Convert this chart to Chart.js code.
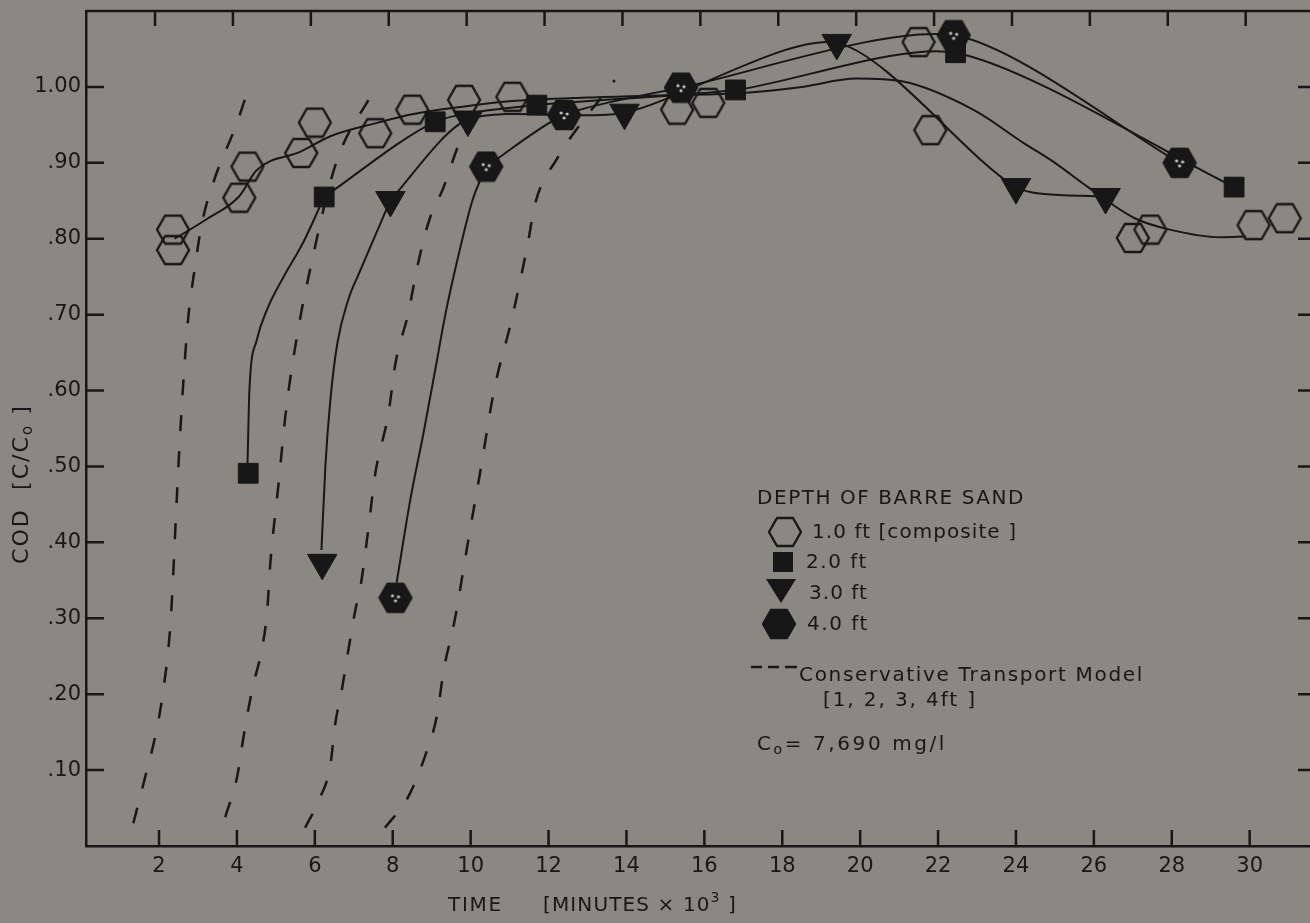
<!DOCTYPE html>
<html>
<head>
<meta charset="utf-8">
<script src="https://cdn.jsdelivr.net/npm/chart.js@4.4.1/dist/chart.umd.min.js"></script>
<style>
  html, body { margin: 0; padding: 0; background: #8b8883; overflow: hidden; }
  #wrap { width: 1330px; height: 923px; }
</style>
</head>
<body>
<div id="wrap"><canvas id="chart" width="1330" height="923"></canvas></div>
<script>
// time axis is minutes x 10^3, COD as C/Co
const xTicks = [2, 4, 6, 8, 10, 12, 14, 16, 18, 20, 22, 24, 26, 28, 30];
const yTicks = [0.1, 0.2, 0.3, 0.4, 0.5, 0.6, 0.7, 0.8, 0.9, 1.0];
const yTickLabels = ['.10', '.20', '.30', '.40', '.50', '.60', '.70', '.80', '.90', '1.00'];

// measured points, depth of Barre sand
const ft1X = [2.36, 2.36, 4.06, 4.27, 5.65, 6.0, 7.55, 8.5, 9.83, 11.07, 15.3, 16.1, 21.5, 21.8, 27.0, 27.45, 30.1, 30.9];
const ft1Y = [0.812, 0.785, 0.854, 0.895, 0.913, 0.953, 0.939, 0.97, 0.983, 0.987, 0.97, 0.979, 1.059, 0.943, 0.801, 0.812, 0.818, 0.827];
const ft2X = [4.29, 6.24, 9.09, 11.7, 16.8, 22.45, 29.6];
const ft2Y = [0.491, 0.855, 0.954, 0.976, 0.996, 1.045, 0.868];
const ft3X = [6.19, 7.94, 9.93, 13.95, 19.4, 24.0, 26.3];
const ft3Y = [0.373, 0.851, 0.957, 0.966, 1.058, 0.868, 0.855];
const ft4X = [8.07, 10.4, 12.4, 15.4, 22.4, 28.2];
const ft4Y = [0.327, 0.895, 0.963, 0.999, 1.068, 0.90];

// hand-drawn curves: composite trend, and the steep rise up to the second point
const ft1CurveX = [2.4, 3.2, 4.06, 4.5, 5.65, 6.4, 7.55, 8.5, 9.8, 11.0, 13.0, 15.0, 17.0, 18.5, 19.9, 21.1, 22.9, 24.2, 25.0, 25.85, 27.05, 27.95, 29.25, 29.9];
const ft1CurveY = [0.80, 0.825, 0.856, 0.89, 0.915, 0.935, 0.952, 0.964, 0.974, 0.981, 0.986, 0.989, 0.992, 1.0, 1.011, 1.007, 0.97, 0.926, 0.90, 0.868, 0.827, 0.812, 0.802, 0.803];
const ft2RiseX = [4.27, 4.32, 4.5, 4.8, 5.2, 5.7, 6.24];
const ft2RiseY = [0.50, 0.60, 0.665, 0.71, 0.75, 0.795, 0.855];
const ft3RiseX = [6.17, 6.27, 6.4, 6.58, 6.86, 7.14, 7.6, 7.94];
const ft3RiseY = [0.39, 0.50, 0.588, 0.663, 0.72, 0.755, 0.81, 0.851];
const ft4RiseX = [8.1, 8.45, 8.79, 9.1, 9.35, 9.65, 10.05, 10.4];
const ft4RiseY = [0.347, 0.456, 0.544, 0.63, 0.70, 0.77, 0.851, 0.895];

// conservative transport model, 1-4 ft
const model1X = [1.34, 1.64, 1.9, 2.08, 2.29, 2.36, 2.47, 2.59, 2.75, 2.9, 3.1, 3.44, 3.96, 4.26];
const model1Y = [0.03, 0.09, 0.144, 0.195, 0.29, 0.354, 0.473, 0.584, 0.696, 0.755, 0.82, 0.881, 0.947, 0.992];
const model2X = [3.7, 4.0, 4.17, 4.39, 4.65, 4.78, 4.85, 5.06, 5.27, 5.63, 5.86, 6.4, 6.7, 7.4];
const model2Y = [0.038, 0.09, 0.144, 0.206, 0.262, 0.311, 0.368, 0.473, 0.578, 0.697, 0.755, 0.875, 0.921, 0.985];
const model3X = [5.75, 6.1, 6.4, 6.52, 6.7, 6.86, 7.04, 7.17, 7.37, 7.55, 7.89, 8.07, 8.4, 8.63, 8.94, 9.3, 9.67, 10.1];
const model3Y = [0.024, 0.06, 0.107, 0.16, 0.208, 0.258, 0.311, 0.341, 0.416, 0.49, 0.57, 0.636, 0.702, 0.763, 0.825, 0.867, 0.921, 0.965];
const model4X = [7.8, 8.4, 8.84, 9.14, 9.3, 9.6, 9.93, 10.27, 10.6, 11.07, 11.46, 11.66, 12.2, 13.7];
const model4Y = [0.024, 0.065, 0.12, 0.173, 0.229, 0.30, 0.40, 0.50, 0.60, 0.697, 0.792, 0.847, 0.904, 1.009];

const ink = '#171717';
const paper = '#8b8883';
const FONT = '"DejaVu Sans", sans-serif';

const zip = (xs, ys) => xs.map((x, i) => ({ x: x, y: ys[i] }));

function hexCanvas(w, h, filled, specks) {
  const c = document.createElement('canvas');
  c.width = w + 4;
  c.height = h + 4;
  const g = c.getContext('2d');
  const cx = c.width / 2, cy = c.height / 2, rx = w / 2, ry = h / 2;
  g.beginPath();
  g.moveTo(cx - rx, cy);
  g.lineTo(cx - rx / 2, cy - ry);
  g.lineTo(cx + rx / 2, cy - ry);
  g.lineTo(cx + rx, cy);
  g.lineTo(cx + rx / 2, cy + ry);
  g.lineTo(cx - rx / 2, cy + ry);
  g.closePath();
  g.lineJoin = 'round';
  if (filled) {
    g.fillStyle = ink;
    g.fill();
  }
  g.lineWidth = 2.4;
  g.strokeStyle = ink;
  g.stroke();
  if (specks) {
    g.fillStyle = '#c9c6c0';
    [[-3, -2], [3, -1], [0, 3]].forEach(d => { g.beginPath(); g.arc(cx + d[0], cy + d[1], 1.6, 0, Math.PI * 2); g.fill(); });
  }
  return c;
}

const openHex = hexCanvas(32, 28, false, false);
const solidHex = hexCanvas(32, 28, true, false);
const speckHex = hexCanvas(32, 28, true, true);

function curve(xs, ys, opts) {
  return Object.assign({
    data: zip(xs, ys),
    showLine: true,
    borderColor: ink,
    borderWidth: 2,
    pointRadius: 0,
    cubicInterpolationMode: 'monotone',
    fill: false,
    order: 2
  }, opts || {});
}

function marks(xs, ys, style, radius, rotation) {
  return {
    data: zip(xs, ys),
    showLine: false,
    pointStyle: style,
    pointRadius: radius,
    pointRotation: rotation || 0,
    backgroundColor: ink,
    borderColor: ink,
    borderWidth: 1,
    order: 1
  };
}

const dashed = { borderWidth: 2.5, borderDash: [16, 20] };
const joined = { cubicInterpolationMode: 'default', tension: 0.25 };

// draws text made of runs [text, size, dy]; stretches letter spacing to a width if given
function drawRuns(ctx, parts, x, y, align, target) {
  let total = 0, count = 0;
  ctx.letterSpacing = '0px';
  parts.forEach(p => { ctx.font = p[1] + 'px ' + FONT; total += ctx.measureText(p[0]).width; count += p[0].length; });
  const ls = target ? (target - total) / count : 0;
  let cx = align === 'center' ? x - (total + ls * count) / 2 : x;
  ctx.textAlign = 'left';
  parts.forEach(p => {
    ctx.font = p[1] + 'px ' + FONT;
    ctx.letterSpacing = '0px';
    const w = ctx.measureText(p[0]).width;
    ctx.letterSpacing = ls + 'px';
    ctx.fillText(p[0], cx, y + p[2]);
    cx += w + ls * p[0].length;
  });
  ctx.letterSpacing = '0px';
}

const decor = {
  id: 'decor',
  beforeDraw(chart) {
    const ctx = chart.ctx;
    ctx.save();
    ctx.fillStyle = paper;
    ctx.fillRect(0, 0, chart.width, chart.height);
    ctx.restore();
  },
  afterDraw(chart) {
    const { ctx, chartArea: a, scales: { x, y } } = chart;
    ctx.save();
    ctx.strokeStyle = ink;
    ctx.lineWidth = 2.5;
    ctx.beginPath();
    ctx.moveTo(a.left, a.top);
    ctx.lineTo(a.right, a.top);
    ctx.lineTo(a.right, a.bottom);
    // inward ticks on all four sides
    xTicks.forEach(v => {
      const px = x.getPixelForValue(v);
      ctx.moveTo(px, a.bottom);
      ctx.lineTo(px, a.bottom - 16);
      ctx.moveTo(px - 4, a.top);
      ctx.lineTo(px - 4, a.top + 15);
    });
    yTicks.forEach(v => {
      const py = y.getPixelForValue(v);
      ctx.moveTo(a.left, py);
      ctx.lineTo(a.left + 18, py);
      ctx.moveTo(a.right, py);
      ctx.lineTo(a.right - 14, py);
    });
    ctx.stroke();

    ctx.fillStyle = ink;
    ctx.textBaseline = 'middle';

    // axis titles
    ctx.save();
    ctx.translate(22, 484);
    ctx.rotate(-Math.PI / 2);
    drawRuns(ctx, [['COD  [C/C', 22, 0], ['o', 15, 6], [' ]', 22, 0]], 0, 0, 'center', 160);
    ctx.restore();
    drawRuns(ctx, [['TIME', 20, 0]], 448, 906, 'left', 55);
    drawRuns(ctx, [['[MINUTES \u00d7 10', 20, 0], ['3', 14, -8], [' ]', 20, 0]], 543, 906, 'left', 194);

    // legend
    drawRuns(ctx, [['DEPTH OF BARRE SAND', 20, 0]], 757, 499, 'left', 268);
    ctx.drawImage(openHex, 785 - openHex.width / 2, 532 - openHex.height / 2);
    drawRuns(ctx, [['1.0 ft [composite ]', 20, 0]], 812, 533, 'left', 205);
    ctx.fillRect(773, 552, 20, 20);
    drawRuns(ctx, [['2.0 ft', 20, 0]], 806, 563, 'left', 62);
    ctx.beginPath();
    ctx.moveTo(766, 579);
    ctx.lineTo(796, 579);
    ctx.lineTo(781, 603);
    ctx.closePath();
    ctx.fill();
    drawRuns(ctx, [['3.0 ft', 20, 0]], 809, 594, 'left', 59);
    ctx.drawImage(solidHex, 779 - solidHex.width / 2, 624 - solidHex.height / 2);
    drawRuns(ctx, [['4.0 ft', 20, 0]], 807, 625, 'left', 62);
    ctx.lineWidth = 2.5;
    ctx.beginPath();
    [[751, 762], [768, 779], [785, 797]].forEach(s => { ctx.moveTo(s[0], 667); ctx.lineTo(s[1], 667); });
    ctx.stroke();
    drawRuns(ctx, [['Conservative Transport Model', 20, 0]], 799, 676, 'left', 345);
    drawRuns(ctx, [['[1, 2, 3, 4ft ]', 20, 0]], 823, 701, 'left', 154);
    drawRuns(ctx, [['C', 20, 0], ['o', 14, 5], ['= 7,690 mg/l', 20, 0]], 757, 745, 'left', 190);
    ctx.restore();
  }
};

new Chart(document.getElementById('chart'), {
  type: 'scatter',
  data: {
    datasets: [
      curve(model1X, model1Y, dashed),
      curve(model2X, model2Y, dashed),
      curve(model3X, model3Y, dashed),
      curve(model4X, model4Y, dashed),
      curve(ft1CurveX, ft1CurveY),
      curve(ft2RiseX, ft2RiseY),
      curve(ft3RiseX, ft3RiseY),
      curve(ft4RiseX, ft4RiseY),
      curve(ft2X.slice(1), ft2Y.slice(1), joined),
      curve(ft3X.slice(1), ft3Y.slice(1), joined),
      curve(ft4X.slice(1), ft4Y.slice(1), joined),
      marks(ft1X, ft1Y, openHex, 16),
      marks(ft2X, ft2Y, 'rect', 14),
      marks(ft3X, ft3Y, 'triangle', 17, 180),
      marks(ft4X, ft4Y, speckHex, 16)
    ]
  },
  options: {
    responsive: false,
    animation: false,
    devicePixelRatio: 1,
    layout: { autoPadding: false, padding: { top: 11, right: 18, left: 0, bottom: 0 } },
    plugins: { legend: { display: false }, tooltip: { enabled: false } },
    scales: {
      x: {
        type: 'linear',
        min: 0.125,
        max: 31.6,
        afterBuildTicks: s => { s.ticks = xTicks.map(v => ({ value: v })); },
        afterFit: s => { s.height = 77; s.paddingLeft = 0; s.paddingRight = 0; },
        grid: { display: false, drawTicks: false },
        border: { display: true, color: ink, width: 2.5 },
        ticks: { color: ink, font: { family: FONT, size: 21 }, padding: 8, maxRotation: 0 }
      },
      y: {
        min: 0,
        max: 1.1,
        afterBuildTicks: s => { s.ticks = yTicks.map(v => ({ value: v })); },
        afterFit: s => { s.width = 86; s.paddingTop = 0; s.paddingBottom = 0; },
        grid: { display: false, drawTicks: false },
        border: { display: true, color: ink, width: 2.5 },
        ticks: {
          color: ink,
          font: { family: FONT, size: 21 },
          padding: 5,
          callback: v => yTickLabels[yTicks.indexOf(v)]
        }
      }
    }
  },
  plugins: [decor]
});
</script>
</body>
</html>
